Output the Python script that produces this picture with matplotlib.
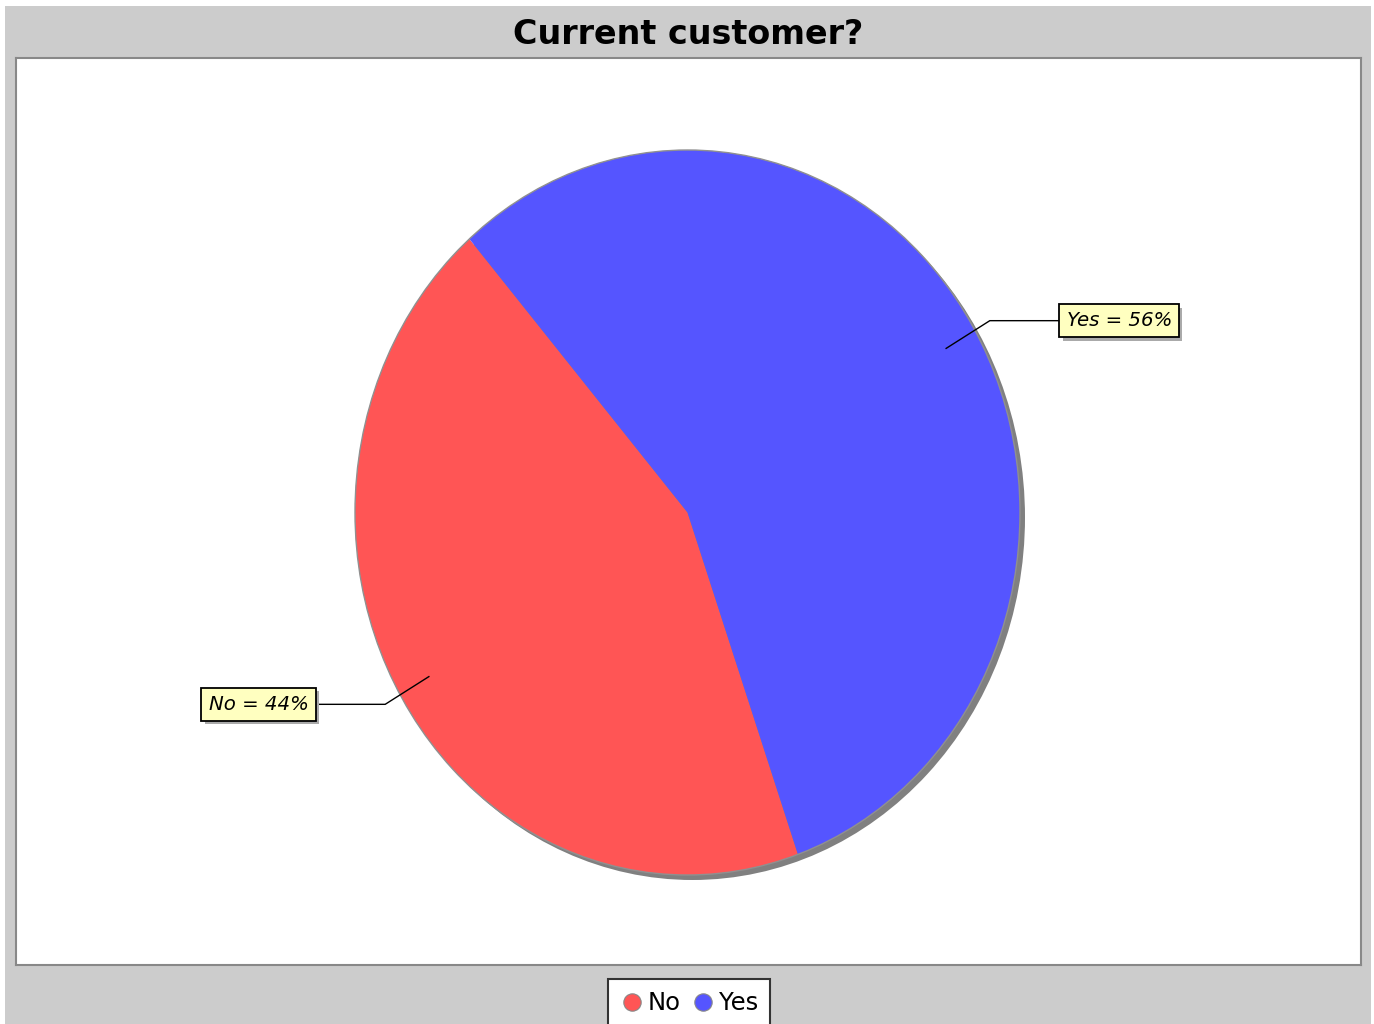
import numpy as np
import matplotlib.pyplot as plt
from matplotlib.patches import Rectangle, Ellipse
from matplotlib.lines import Line2D
import matplotlib.patheffects as pe

# data
categories = ['No', 'Yes']
shares = [44, 56]
colors = ['#FF5555', '#5555FF']
title = 'Current customer?'

W, H = 1374, 1024
fig = plt.figure(figsize=(W / 100, H / 100), dpi=100)
fig.patch.set_facecolor('white')

# gray chart background
fig.patches.append(Rectangle((5 / W, 0), (1371 - 5) / W, 1 - 6 / H,
                             transform=fig.transFigure, facecolor='#CCCCCC',
                             edgecolor='none', zorder=-5))

fig.text(688 / W, 1 - 34 / H, title, ha='center', va='center',
         fontsize=24, fontweight='bold')

# plot area
left, top, right, bottom = 16, 58, 1361, 965
ax = fig.add_axes([left / W, 1 - bottom / H, (right - left) / W, (bottom - top) / H])
ax.set_facecolor('white')

cx, cy, rx, ry = 687.5, 512.5, 332.5, 362.5
start = 131

wedges, _ = ax.pie(shares, colors=colors, startangle=start, counterclock=True,
                   radius=1, center=(0, 0), frame=True)
for w in wedges:
    w.set_zorder(3)
    w.set_linewidth(0)

# shadow and outline
ax.add_patch(Ellipse((5 / rx, -5 / ry), 2, 2, facecolor='#808080',
                     edgecolor='none', zorder=2))
ax.add_patch(Ellipse((0, 0), 2, 2, facecolor='none', edgecolor='#909090',
                     linewidth=1, zorder=4))

ax.set_aspect('auto')
ax.set_xlim((left - cx) / rx, (right - cx) / rx)
ax.set_ylim((cy - bottom) / ry, (cy - top) / ry)
ax.set_xticks([])
ax.set_yticks([])
for s in ax.spines.values():
    s.set_color('#888888')
    s.set_linewidth(1.5)

# section labels
theta = start
for name, val in zip(categories, shares):
    mid = np.deg2rad(theta + val * 3.6 / 2)
    theta += val * 3.6
    ca, sa = np.cos(mid), np.sin(mid)
    side = 1 if ca > 0 else -1
    x0, y0 = 0.9 * ca, 0.9 * sa
    x1, y1 = 1.052 * ca, 1.052 * sa
    x2 = side * 1.129
    ax.plot([x0, x1, x2], [y0, y1, y1], color='black', lw=1, zorder=5)
    t = ax.text(x2 + side * 0.011, y1, f'{name} = {val}%', fontsize=14.2,
                style='italic', ha='left' if side > 0 else 'right',
                va='center', zorder=6,
                bbox=dict(boxstyle='square,pad=0.36', facecolor='#FFFFC0',
                          edgecolor='black', linewidth=1.3))
    t.get_bbox_patch().set_path_effects(
        [pe.SimplePatchShadow(offset=(2.5, -2.5), shadow_rgbFace='#aaaaaa', alpha=1),
         pe.Normal()])

# legend
handles = [Line2D([], [], marker='o', linestyle='none', markersize=12.5,
                  markerfacecolor=c, markeredgecolor='#888888', markeredgewidth=0.8)
           for c in colors]
leg = fig.legend(handles, categories, loc='upper center', ncol=2,
                 bbox_to_anchor=(689 / W, 1 - 979 / H), fontsize=17.5,
                 handletextpad=0.15, columnspacing=0.4, handlelength=1.0,
                 borderpad=0.5, borderaxespad=0, fancybox=False, framealpha=1)
leg.get_frame().set_edgecolor('#333333')
leg.get_frame().set_linewidth(1.5)

fig.savefig('out.png', dpi=100)
